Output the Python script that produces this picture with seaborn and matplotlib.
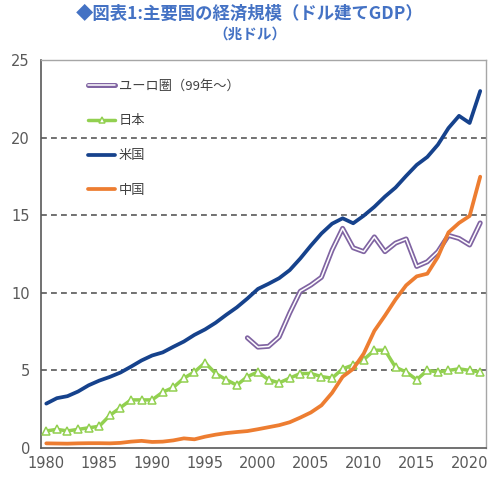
import numpy as np
import pandas as pd
import matplotlib
matplotlib.use('Agg')
import matplotlib.pyplot as plt
import matplotlib.patheffects as pe
import seaborn as sns

# データ（兆ドル）
years = list(range(1980, 2022))
usa = [2.86, 3.21, 3.34, 3.64, 4.04, 4.34, 4.58, 4.86, 5.24, 5.64,
       5.96, 6.16, 6.52, 6.86, 7.29, 7.64, 8.07, 8.58, 9.06, 9.63,
       10.25, 10.58, 10.94, 11.46, 12.21, 13.04, 13.82, 14.45, 14.8, 14.48,
       14.97, 15.54, 16.2, 16.78, 17.53, 18.24, 18.75, 19.54, 20.61, 21.4,
       20.94, 23.0]
china = [0.30, 0.29, 0.28, 0.30, 0.31, 0.31, 0.30, 0.33, 0.41, 0.46,
         0.39, 0.41, 0.49, 0.62, 0.56, 0.73, 0.86, 0.96, 1.03, 1.09,
         1.21, 1.34, 1.47, 1.66, 1.96, 2.29, 2.75, 3.55, 4.59, 5.10,
         6.09, 7.55, 8.53, 9.57, 10.48, 11.06, 11.23, 12.31, 13.89, 14.5,
         14.95, 17.48]
japan = [1.1, 1.2, 1.1, 1.2, 1.3, 1.4, 2.1, 2.6, 3.1, 3.1,
         3.1, 3.6, 3.9, 4.5, 4.9, 5.5, 4.8, 4.4, 4.05, 4.6,
         4.9, 4.4, 4.2, 4.5, 4.8, 4.8, 4.6, 4.5, 5.1, 5.35,
         5.7, 6.3, 6.3, 5.2, 4.9, 4.4, 5.0, 4.9, 5.0, 5.1,
         5.0, 4.9]
euro_years = list(range(1999, 2022))
euro = [7.1, 6.5, 6.55, 7.15, 8.7, 10.1, 10.5, 11.0, 12.75, 14.15,
        12.9, 12.65, 13.6, 12.65, 13.2, 13.47, 11.7, 12.0, 12.65, 13.7,
        13.5, 13.08, 14.5]

purple = '#8064A2'
green = '#92D050'
navy = '#16428C'
orange = '#ED7D31'
gray = '#595959'

sns.set_style('white')
plt.rcParams['font.family'] = ['Noto Sans CJK JP', 'DejaVu Sans']

fig = plt.figure(figsize=(5, 4.99), dpi=100)
ax = fig.add_axes([0.082, 0.1022, 0.889, 0.7776])

ax.grid(False)
for v in [5, 10, 15, 20]:
    ax.axhline(v, color=gray, lw=1.2, ls=(0, (3.5, 2.5)), zorder=1)

sns.lineplot(x=euro_years, y=euro, ax=ax, color='white', lw=1.1,
             label='ユーロ圏（99年～）', zorder=3,
             path_effects=[pe.Stroke(linewidth=3.6, foreground=purple), pe.Normal()])
sns.lineplot(x=years, y=japan, ax=ax, color=green, lw=2.5, marker='^',
             markersize=5.5, markerfacecolor='white', markeredgecolor=green,
             markeredgewidth=1.1, label='日本', zorder=4)
sns.lineplot(x=years, y=usa, ax=ax, color=navy, lw=2.7, label='米国', zorder=5)
sns.lineplot(x=years, y=china, ax=ax, color=orange, lw=2.7, label='中国', zorder=6)

ax.set_xlim(1979.5, 2021.5)
ax.set_ylim(0, 25)
ax.set_yticks([0, 5, 10, 15, 20, 25])
ax.set_xticks(list(range(1980, 2021, 5)))
ax.set_xticks([y - 0.5 for y in range(1980, 2021, 5)], minor=True)
ax.tick_params(axis='x', which='major', length=0, labelsize=10.5, labelcolor=gray, pad=6)
ax.tick_params(axis='x', which='minor', length=4, direction='in', color=gray, width=1)
ax.tick_params(axis='y', length=0, labelsize=10.5, labelcolor=gray, pad=8)
for lab in ax.get_xticklabels() + ax.get_yticklabels():
    lab.set_family('DejaVu Sans')

for s in ['top', 'right']:
    ax.spines[s].set_color('#A6A6A6')
    ax.spines[s].set_linewidth(1)
for s in ['left', 'bottom']:
    ax.spines[s].set_color(gray)
    ax.spines[s].set_linewidth(1.2)
ax.set_xlabel('')
ax.set_ylabel('')

leg = ax.legend(loc='upper left', bbox_to_anchor=(0.08, 0.98), frameon=False,
                fontsize=9.5, labelspacing=1.65, handlelength=2.0,
                handletextpad=0.3, markerscale=0.7)
for t in leg.get_texts():
    t.set_color('#404040')

fig.text(0.5, 0.972, '◆図表1:主要国の経済規模（ドル建てGDP）', ha='center', va='center',
         fontsize=12.5, fontweight='bold', color='#4472C4')
fig.text(0.5, 0.932, '（兆ドル）', ha='center', va='center',
         fontsize=10.5, fontweight='bold', color='#4472C4')

fig.savefig('out.png', dpi=100)
